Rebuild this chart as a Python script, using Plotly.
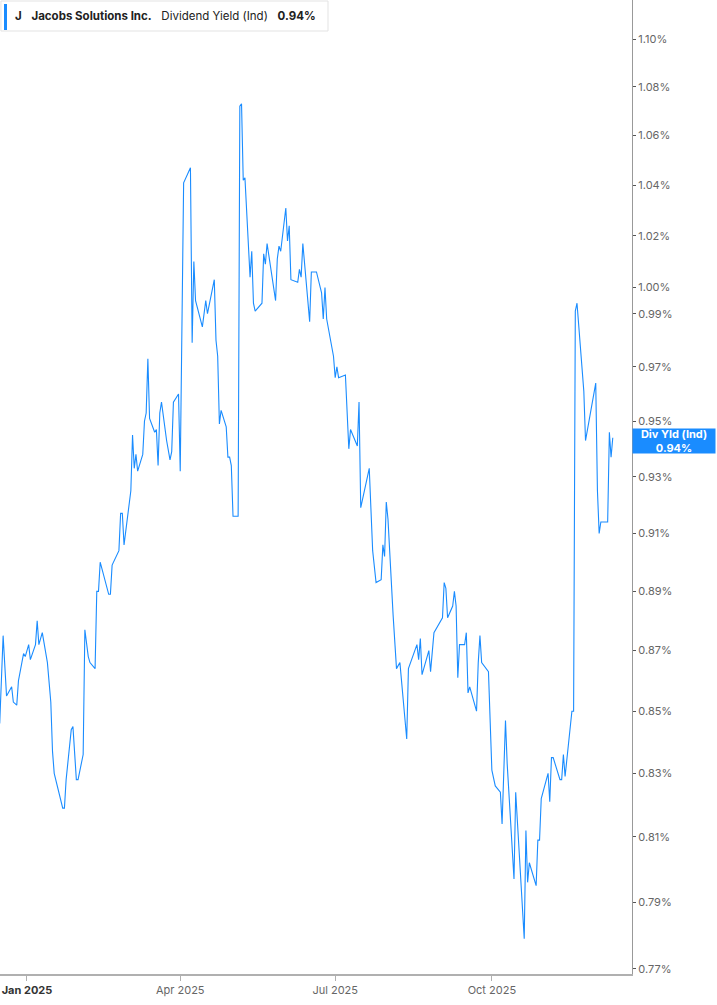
import numpy as np
import plotly.graph_objects as go

# Jacobs Solutions Inc. - indicated dividend yield (%)
dates = [
    "2024-12-16", "2024-12-18", "2024-12-20", "2024-12-23", "2024-12-24", "2024-12-26",
    "2024-12-27", "2024-12-30", "2024-12-31", "2025-01-02", "2025-01-03", "2025-01-06",
    "2025-01-07", "2025-01-08", "2025-01-10", "2025-01-13", "2025-01-15", "2025-01-16",
    "2025-01-17", "2025-01-22", "2025-01-23", "2025-01-24", "2025-01-27", "2025-01-28",
    "2025-01-30", "2025-01-31", "2025-02-03", "2025-02-04", "2025-02-06", "2025-02-07",
    "2025-02-10", "2025-02-11", "2025-02-12", "2025-02-13", "2025-02-18", "2025-02-19",
    "2025-02-20", "2025-02-24", "2025-02-25", "2025-02-26", "2025-02-27", "2025-03-03",
    "2025-03-04", "2025-03-05", "2025-03-06", "2025-03-07", "2025-03-10", "2025-03-11",
    "2025-03-12", "2025-03-13", "2025-03-14", "2025-03-17", "2025-03-18", "2025-03-19",
    "2025-03-20", "2025-03-21", "2025-03-24", "2025-03-26", "2025-03-27", "2025-03-28",
    "2025-03-31", "2025-04-01", "2025-04-03", "2025-04-07", "2025-04-08", "2025-04-09",
    "2025-04-10", "2025-04-14", "2025-04-16", "2025-04-17", "2025-04-21", "2025-04-22",
    "2025-04-23", "2025-04-24", "2025-04-25", "2025-04-28", "2025-04-29", "2025-04-30",
    "2025-05-01", "2025-05-02", "2025-05-05", "2025-05-06", "2025-05-07", "2025-05-08",
    "2025-05-09", "2025-05-12", "2025-05-13", "2025-05-14", "2025-05-15", "2025-05-19",
    "2025-05-20", "2025-05-21", "2025-05-22", "2025-05-27", "2025-05-28", "2025-05-29",
    "2025-05-30", "2025-06-02", "2025-06-03", "2025-06-04", "2025-06-05", "2025-06-09",
    "2025-06-10", "2025-06-11", "2025-06-12", "2025-06-16", "2025-06-17", "2025-06-20",
    "2025-06-23", "2025-06-24", "2025-06-25", "2025-06-26", "2025-06-30", "2025-07-01",
    "2025-07-02", "2025-07-03", "2025-07-07", "2025-07-08", "2025-07-09", "2025-07-10",
    "2025-07-14", "2025-07-15", "2025-07-16", "2025-07-21", "2025-07-23", "2025-07-25",
    "2025-07-28", "2025-07-29", "2025-07-30", "2025-07-31", "2025-08-01", "2025-08-04",
    "2025-08-05", "2025-08-06", "2025-08-08", "2025-08-12", "2025-08-13", "2025-08-18",
    "2025-08-19", "2025-08-20", "2025-08-21", "2025-08-25", "2025-08-26", "2025-08-28",
    "2025-09-02", "2025-09-03", "2025-09-04", "2025-09-05", "2025-09-08", "2025-09-09",
    "2025-09-10", "2025-09-11", "2025-09-12", "2025-09-15", "2025-09-16", "2025-09-17",
    "2025-09-18", "2025-09-22", "2025-09-23", "2025-09-24", "2025-09-25", "2025-09-29",
    "2025-10-01", "2025-10-02", "2025-10-03", "2025-10-06", "2025-10-07", "2025-10-09",
    "2025-10-10", "2025-10-14", "2025-10-15", "2025-10-20", "2025-10-21", "2025-10-22",
    "2025-10-23", "2025-10-27", "2025-10-28", "2025-10-29", "2025-10-30", "2025-11-03",
    "2025-11-04", "2025-11-05", "2025-11-06", "2025-11-10", "2025-11-11", "2025-11-12",
    "2025-11-13", "2025-11-17", "2025-11-18", "2025-11-19", "2025-11-20", "2025-11-24",
    "2025-11-25", "2025-12-01", "2025-12-02", "2025-12-03", "2025-12-04", "2025-12-08",
    "2025-12-09", "2025-12-10", "2025-12-11",
]
div_yield = [
    0.846, 0.875, 0.855, 0.858, 0.853, 0.852,
    0.860, 0.869, 0.868, 0.872, 0.867, 0.872,
    0.880, 0.872, 0.876, 0.866, 0.853, 0.837,
    0.830, 0.819, 0.819, 0.828, 0.844, 0.845,
    0.828, 0.828, 0.836, 0.877, 0.868, 0.866,
    0.864, 0.890, 0.890, 0.900, 0.889, 0.889,
    0.899, 0.904, 0.917, 0.917, 0.906, 0.925,
    0.945, 0.933, 0.938, 0.932, 0.938, 0.950,
    0.953, 0.973, 0.951, 0.946, 0.947, 0.934,
    0.953, 0.957, 0.943, 0.936, 0.939, 0.957,
    0.960, 0.932, 1.041, 1.047, 0.979, 1.010,
    0.995, 0.985, 0.995, 0.990, 1.003, 0.980,
    0.974, 0.949, 0.954, 0.948, 0.937, 0.937,
    0.934, 0.916, 0.916, 1.072, 1.073, 1.042,
    1.043, 1.004, 1.014, 0.994, 0.991, 0.994,
    1.013, 1.009, 1.017, 0.995, 1.011, 1.016,
    1.014, 1.031, 1.018, 1.024, 1.003, 1.002,
    1.007, 1.004, 1.017, 0.987, 1.006, 1.006,
    0.998, 0.988, 1.000, 0.988, 0.974, 0.966,
    0.970, 0.966, 0.967, 0.955, 0.940, 0.947,
    0.941, 0.957, 0.919, 0.933, 0.904, 0.893,
    0.894, 0.906, 0.902, 0.921, 0.915, 0.882,
    0.871, 0.864, 0.866, 0.841, 0.864, 0.872,
    0.867, 0.874, 0.862, 0.870, 0.863, 0.876,
    0.881, 0.893, 0.891, 0.881, 0.885, 0.890,
    0.885, 0.861, 0.872, 0.872, 0.876, 0.856,
    0.858, 0.850, 0.866, 0.875, 0.866, 0.863,
    0.831, 0.828, 0.826, 0.824, 0.814, 0.847,
    0.833, 0.797, 0.824, 0.779, 0.812, 0.796,
    0.802, 0.795, 0.809, 0.809, 0.822, 0.830,
    0.821, 0.835, 0.835, 0.828, 0.828, 0.836,
    0.829, 0.850, 0.850, 0.991, 0.994, 0.961,
    0.943, 0.964, 0.925, 0.910, 0.914, 0.914,
    0.946, 0.937, 0.944,
]

y_ticks = [0.77, 0.79, 0.81, 0.83, 0.85, 0.87, 0.89, 0.91, 0.93, 0.95, 0.97, 0.99,
           1.00, 1.02, 1.04, 1.06, 1.08, 1.10]
x_ticks = ["2025-01-01", "2025-04-01", "2025-07-01", "2025-10-01"]
x_tick_text = ["<b><span style='color:#333'>Jan 2025</span></b>", "Apr 2025", "Jul 2025", "Oct 2025"]

BLUE = "#1a8cff"
FONT = "Inter"

fig = go.Figure()
fig.add_trace(go.Scatter(
    x=dates, y=div_yield, mode="lines",
    line=dict(color=BLUE, width=1.1),
    hoverinfo="skip", showlegend=False,
))

fig.update_xaxes(
    range=["2024-12-16 04:00", "2025-12-22 07:00"],
    tickvals=x_ticks, ticktext=x_tick_text,
    showgrid=False, zeroline=False,
    showline=True, linecolor="#b0b0b0", linewidth=1.5,
    ticks="outside", ticklen=5, tickcolor="#b0b0b0",
    tickfont=dict(family=FONT, size=11, color="#666"),
)
fig.update_yaxes(
    type="log", side="right",
    range=[np.log10(0.7685), np.log10(1.1166)],
    tickvals=y_ticks, ticktext=[f"{v:.2f}%" for v in y_ticks],
    showgrid=False, zeroline=False,
    showline=True, linecolor="#999", linewidth=1.2,
    ticks="outside", ticklen=3, tickcolor="#555",
    tickfont=dict(family=FONT, size=11, color="#666"),
)

# header box (legend-like)
fig.add_shape(type="rect", xref="paper", yref="paper",
              x0=0.0015, x1=328 / 632, y0=1 - 31 / 974, y1=1 - 1 / 974,
              line=dict(color="#e3e3e3", width=1), fillcolor="white", layer="above")
fig.add_shape(type="rect", xref="paper", yref="paper",
              x0=4 / 632, x1=7 / 632, y0=1 - 30 / 974, y1=1 - 4 / 974,
              line=dict(width=0), fillcolor=BLUE, layer="above")
fig.add_annotation(
    xref="paper", yref="paper", x=13 / 632, y=1 - 16 / 974,
    xanchor="left", yanchor="middle", showarrow=False,
    text="<b>J</b>\u00a0\u00a0\u00a0<b>Jacobs Solutions Inc.</b>\u00a0\u00a0\u00a0Dividend Yield (Ind)"
         "\u00a0\u00a0\u00a0<b>0.94%</b>",
    font=dict(family=FONT, size=11.5, color="#222"),
)

# last value tag on the right axis
fig.add_annotation(
    xref="paper", yref="y", x=1.0, y=np.log10(div_yield[-1]),
    xanchor="left", yanchor="middle", yshift=-3, showarrow=False,
    text="<b>Div Yld (Ind)<br>0.94%</b>",
    font=dict(family=FONT, size=11, color="white"),
    bgcolor=BLUE, width=82, height=24, borderpad=0, align="center",
)

fig.update_layout(
    width=717, height=1005,
    margin=dict(l=0, r=85, t=0, b=31),
    paper_bgcolor="white", plot_bgcolor="white",
    font=dict(family=FONT),
)

fig.write_html("out.html", config={"displayModeBar": False},
               post_script="document.body.style.margin='0px';")
